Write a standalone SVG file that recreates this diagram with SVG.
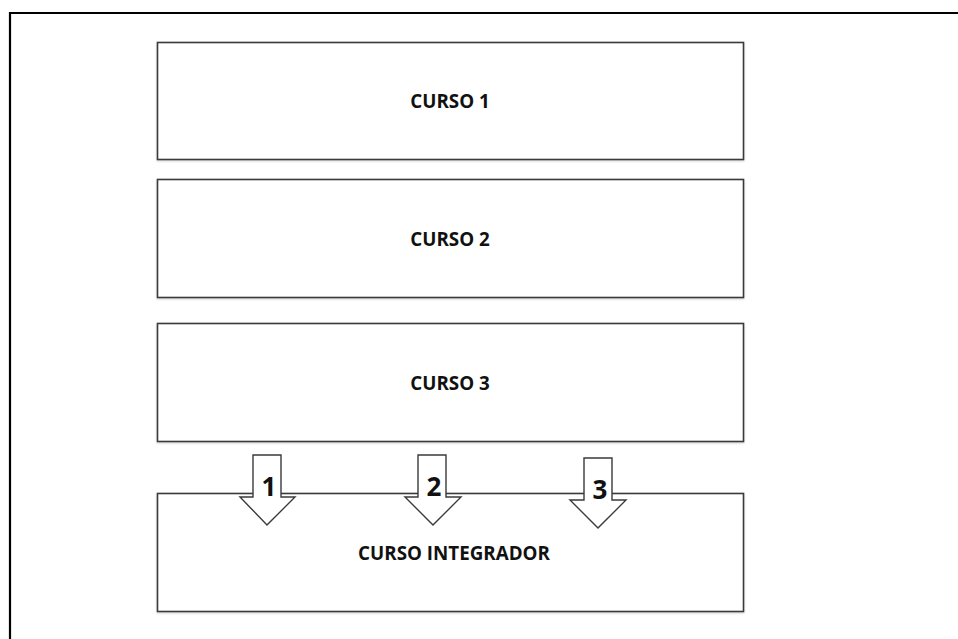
<svg xmlns="http://www.w3.org/2000/svg" width="958" height="639" viewBox="0 0 958 639">
  <defs>
    <style>
      .box { fill: #ffffff; stroke: #3a3a3a; stroke-width: 1.6; }
      .arrow { fill: #ffffff; stroke: #3a3a3a; stroke-width: 1.4; stroke-linejoin: miter; }
      .label { font-family: "Open Sans", "Liberation Sans", sans-serif; font-weight: bold; font-size: 18.8px; fill: #111111; text-anchor: middle; dominant-baseline: central; }
      .num { font-family: "Open Sans", "Liberation Sans", sans-serif; font-weight: bold; font-size: 26px; fill: #111111; text-anchor: middle; dominant-baseline: central; }
    </style>
    <filter id="soft" x="-5%" y="-5%" width="110%" height="115%">
      <feDropShadow dx="0" dy="1" stdDeviation="1" flood-color="#000" flood-opacity="0.18"/>
    </filter>
  </defs>

  <rect width="958" height="639" fill="#ffffff"/>

  <!-- outer frame -->
  <path d="M 10 639 L 10 13 L 958 13" fill="none" stroke="#000000" stroke-width="2.2"/>

  <g id="curso1">
    <rect class="box" x="157.5" y="42.5" width="586" height="117" filter="url(#soft)"/>
    <text class="label" x="450" y="101">CURSO 1</text>
  </g>

  <g id="curso2">
    <rect class="box" x="157.5" y="179.5" width="586" height="118" filter="url(#soft)"/>
    <text class="label" x="450" y="239">CURSO 2</text>
  </g>

  <g id="curso3">
    <rect class="box" x="157.5" y="323.5" width="586" height="118" filter="url(#soft)"/>
    <text class="label" x="450" y="383">CURSO 3</text>
  </g>

  <g id="curso-integrador">
    <rect class="box" x="157.5" y="493.5" width="586" height="118" filter="url(#soft)"/>
    <text class="label" x="454" y="553">CURSO INTEGRADOR</text>
  </g>

  <g id="connectors">
    <g id="arrow1">
      <polygon class="arrow" points="253,455 281,455 281,497 295,497 267,525 240,497 253,497"/>
      <text class="num" x="269" y="486">1</text>
    </g>
    <g id="arrow2">
      <polygon class="arrow" points="418,455 446,455 446,497 461,497 433,525 405,497 418,497"/>
      <text class="num" x="434" y="486">2</text>
    </g>
    <g id="arrow3">
      <polygon class="arrow" points="584,458 612,458 612,500 626,500 598,528 570,500 584,500"/>
      <text class="num" x="600" y="489">3</text>
    </g>
  </g>
</svg>
